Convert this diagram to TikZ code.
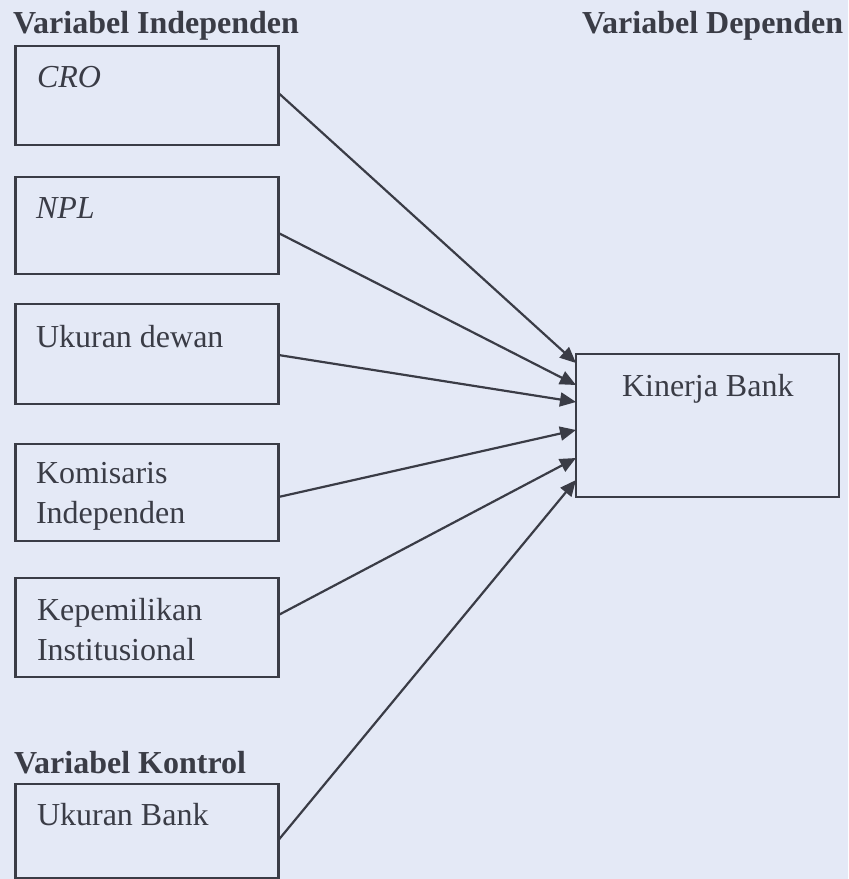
\documentclass[tikz,border=0pt]{standalone}
\usepackage{fontspec}
\setmainfont{Liberation Serif}
\usetikzlibrary{arrows.meta,calc}
\definecolor{bg}{RGB}{228,233,246}
\definecolor{ink}{RGB}{58,60,70}
\begin{document}
\begin{tikzpicture}[x=0.5pt,y=-0.5pt,
  box/.style={draw=ink,line width=1.1pt,inner sep=0pt,outer sep=0pt,minimum width=131.5pt},
  lbl/.style={anchor=base west,inner sep=0pt,outer sep=0pt,text=ink,font=\fontsize{16}{20}\selectfont},
  ttl/.style={anchor=base west,inner sep=0pt,outer sep=0pt,text=ink,font=\fontsize{16}{20}\selectfont\bfseries},
  arr/.style={draw=ink,line width=1.1pt,-{Triangle[length=8pt,width=7pt]}}]
\fill[bg] (0,0) rectangle (848,879);
\useasboundingbox (0,0) rectangle (848,879);
% titles
\node[ttl] (tind) at (13,33) {Variabel Independen};
\node[ttl] (tdep) at (582,33) {Variabel Dependen};
\node[ttl] (tkon) at (14,773) {Variabel Kontrol};
% boxes
\node[box,minimum height=49.5pt] (cro) at (147,95.5) {};
\node[box,minimum height=48.5pt] (npl) at (147,225.5) {};
\node[box,minimum height=50pt] (dew) at (147,354) {};
\node[box,minimum height=48.5pt] (kom) at (147,492.5) {};
\node[box,minimum height=49.5pt] (kep) at (147,627.5) {};
\node[box,minimum height=47pt] (bank) at (147,831) {};
\node[box,minimum height=71.5pt] (kin) at (707.5,425.5) {};
% labels
\node[lbl] (lcro) at (37,87) {\itshape CRO};
\node[lbl] (lnpl) at (36,218) {\itshape NPL};
\node[lbl] (ldew) at (36,347) {Ukuran dewan};
\node[lbl] (lkom1) at (36,483) {Komisaris};
\node[lbl] (lkom2) at (36,523) {Independen};
\node[lbl] (lkep1) at (37,620) {Kepemilikan};
\node[lbl] (lkep2) at (37,660) {Institusional};
\node[lbl] (lbank) at (37,825) {Ukuran Bank};
\node[lbl] (lkin) at (622,396) {Kinerja Bank};
% arrows
\draw[arr] ($(cro.east)+(0,-2.5)$) -- ($(kin.west)+(0,-62.5)$);
\draw[arr] ($(npl.east)+(0,7.5)$) -- ($(kin.west)+(0,-40.5)$);
\draw[arr] ($(dew.east)+(0,1)$) -- ($(kin.west)+(0,-23.5)$);
\draw[arr] ($(kom.east)+(0,4.5)$) -- ($(kin.west)+(0,4.5)$);
\draw[arr] ($(kep.east)+(0,-12.5)$) -- ($(kin.west)+(0,32.5)$);
\draw[arr] ($(bank.east)+(0,9)$) -- ($(kin.west)+(0,54.5)$);
\end{tikzpicture}
\end{document}
